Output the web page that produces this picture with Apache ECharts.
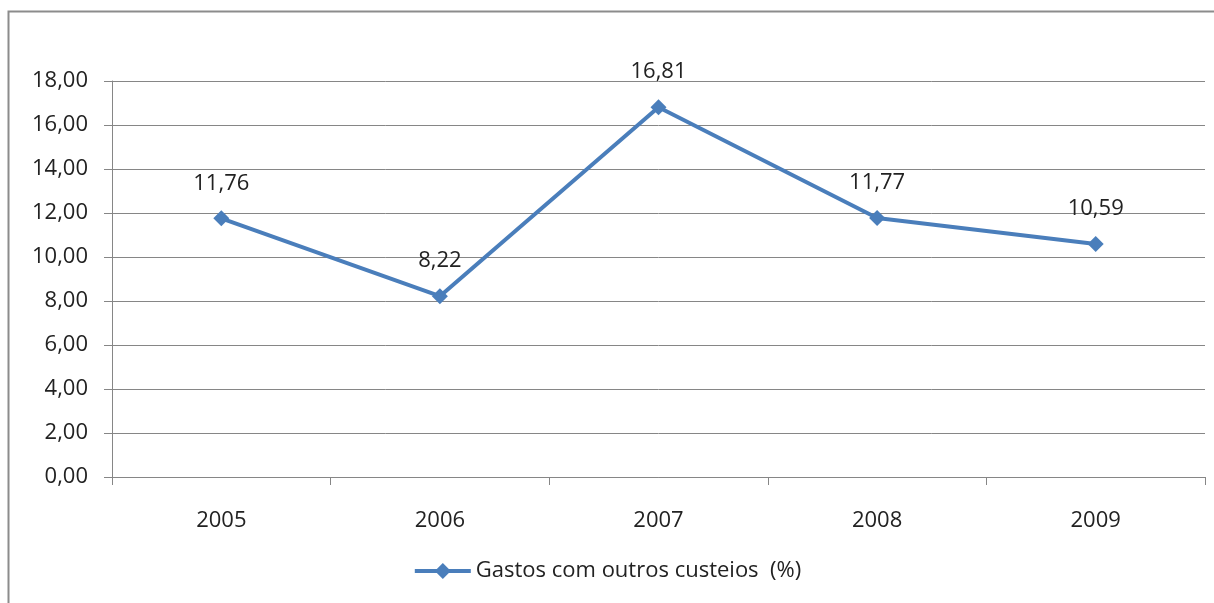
<!DOCTYPE html>
<html><head><meta charset="utf-8">
<script src="https://cdn.jsdelivr.net/npm/echarts@6/dist/echarts.min.js"></script>
<style>
html,body{margin:0;padding:0;background:#fff;}
#c{width:1214px;height:603px;}
</style></head>
<body><div id="c"></div>
<script>
const categories = ['2005','2006','2007','2008','2009'];
const values = [11.76, 8.22, 16.81, 11.77, 10.59];
const seriesName = 'Gastos com outros custeios  (%)';
const yTicks = {min:0, max:18, interval:2};

const fmt = v => v.toFixed(2).replace('.', ',');
const font = '"Open Sans", "Noto Sans", sans-serif';
const fs = 22;
const chart = echarts.init(document.getElementById('c'));
chart.setOption({
  animation:false,
  backgroundColor:'#fff',
  graphic:[{type:'rect', shape:{x:8.5,y:11.5,width:1300,height:700}, style:{fill:'none', stroke:'#8c8c8c', lineWidth:2}, silent:true}],
  grid:{left:112, right:9, top:81, bottom:126, containLabel:false},
  legend:{
    bottom:16, left:'center',
    data:[seriesName],
    itemWidth:56, itemHeight:20,
    lineStyle:{width:4},
    textStyle:{fontFamily:font, fontSize:fs, color:'#222'},
    itemGap:4
  },
  xAxis:{
    type:'category', data:categories, boundaryGap:true,
    axisLine:{lineStyle:{color:'#868686', width:1}},
    axisTick:{show:true, length:8, inside:false, lineStyle:{color:'#868686'}},
    axisLabel:{fontFamily:font, fontSize:fs, color:'#222', margin:33}
  },
  yAxis:{
    type:'value', min:yTicks.min, max:yTicks.max, interval:yTicks.interval,
    axisLine:{show:true, lineStyle:{color:'#868686', width:1}},
    axisTick:{show:true, length:8, lineStyle:{color:'#868686'}},
    splitLine:{lineStyle:{color:'#868686', width:1}},
    axisLabel:{fontFamily:font, fontSize:fs, color:'#222', margin:24, formatter:fmt}
  },
  series:[{
    name:seriesName, type:'line', data:values,
    symbol:'diamond', symbolSize:16,
    lineStyle:{color:'#4a7ebb', width:4},
    itemStyle:{color:'#4a7ebb'},
    label:{show:true, position:'top', distance:16, fontFamily:font, fontSize:fs, color:'#222', formatter:p=>fmt(p.value)}
  }]
});
</script></body></html>
